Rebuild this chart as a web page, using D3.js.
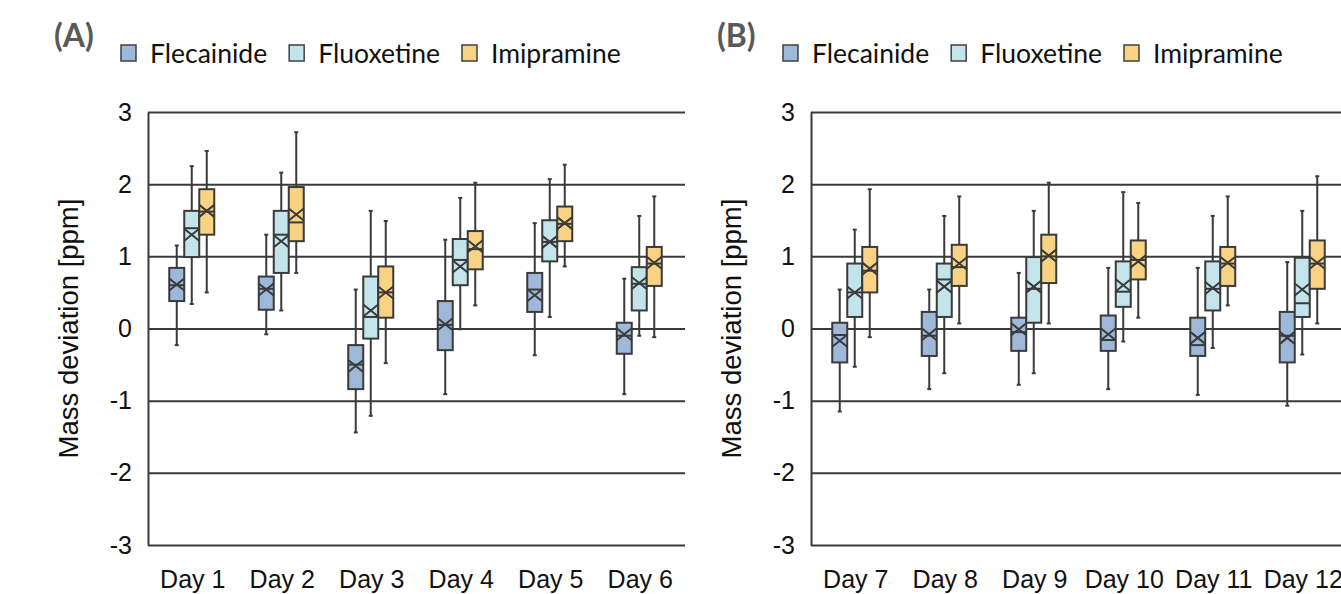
<!DOCTYPE html>
<html>
<head>
<meta charset="utf-8">
<script src="https://cdn.jsdelivr.net/npm/d3@7"></script>
<style>
  body { margin: 0; background: white; }
  svg { display: block; }
</style>
</head>
<body>
<main></main>
<script>
// values per box: [whisker low, q1, median, q3, whisker high, mean]
const seriesNames = ["Flecainide", "Fluoxetine", "Imipramine"];
const seriesColors = ["#9db8d8", "#c3e4ea", "#f9d383"];
const yTicks = [-3, -2, -1, 0, 1, 2, 3];

const daysA = ["Day 1", "Day 2", "Day 3", "Day 4", "Day 5", "Day 6"];
const daysB = ["Day 7", "Day 8", "Day 9", "Day 10", "Day 11", "Day 12"];

const flecainideA = [
    [-0.23, 0.38, 0.60, 0.84, 1.15, 0.61],
    [-0.08, 0.26, 0.55, 0.72, 1.30, 0.54],
    [-1.44, -0.84, -0.50, -0.23, 0.54, -0.52],
    [-0.91, -0.30, 0.05, 0.38, 1.23, 0.06],
    [-0.37, 0.23, 0.54, 0.77, 1.46, 0.46],
    [-0.91, -0.35, -0.10, 0.08, 0.69, -0.08]
];
const fluoxetineA = [
    [0.34, 0.99, 1.39, 1.63, 2.25, 1.30],
    [0.25, 0.77, 1.30, 1.63, 2.16, 1.21],
    [-1.21, -0.14, 0.16, 0.72, 1.63, 0.25],
    [-0.01, 0.60, 0.95, 1.24, 1.81, 0.86],
    [0.16, 0.93, 1.20, 1.50, 2.07, 1.20],
    [-0.10, 0.25, 0.62, 0.85, 1.56, 0.63]
];
const imipramineA = [
    [0.50, 1.30, 1.62, 1.93, 2.46, 1.63],
    [0.77, 1.21, 1.47, 1.96, 2.72, 1.58],
    [-0.48, 0.15, 0.50, 0.86, 1.49, 0.50],
    [0.32, 0.82, 1.10, 1.35, 2.02, 1.14],
    [0.86, 1.21, 1.45, 1.69, 2.27, 1.46],
    [-0.12, 0.59, 0.90, 1.13, 1.83, 0.91]
];

const flecainideB = [
    [-1.15, -0.47, -0.09, 0.08, 0.54, -0.17],
    [-0.84, -0.38, -0.10, 0.23, 0.54, -0.08],
    [-0.78, -0.31, -0.05, 0.15, 0.77, -0.01],
    [-0.84, -0.31, -0.16, 0.18, 0.84, -0.08],
    [-0.92, -0.38, -0.23, 0.15, 0.84, -0.13],
    [-1.07, -0.47, -0.10, 0.23, 0.92, -0.13]
];
const fluoxetineB = [
    [-0.53, 0.16, 0.50, 0.90, 1.37, 0.50],
    [-0.62, 0.16, 0.68, 0.90, 1.56, 0.58],
    [-0.62, 0.08, 0.55, 0.99, 1.63, 0.58],
    [-0.18, 0.30, 0.51, 0.93, 1.89, 0.60],
    [-0.27, 0.25, 0.55, 0.93, 1.56, 0.56],
    [-0.36, 0.16, 0.35, 0.98, 1.63, 0.54]
];
const imipramineB = [
    [-0.12, 0.50, 0.80, 1.13, 1.93, 0.83],
    [0.07, 0.59, 0.85, 1.16, 1.83, 0.90],
    [0.07, 0.63, 1.00, 1.30, 2.02, 1.01],
    [0.15, 0.68, 0.95, 1.22, 1.74, 0.93],
    [0.32, 0.59, 0.90, 1.13, 1.83, 0.91],
    [0.07, 0.55, 0.90, 1.22, 2.11, 0.91]
];

const WIDTH = 1341;
const HEIGHT = 594;
const PLOT_TOP = 112;
const PLOT_BOTTOM = 545;
const PLOT_WIDTH = 537;
const BOX_W = 15;
const LINE = "#3a3a3a";
const AXIS_FONT = "'Liberation Sans', Arial, sans-serif";
const LEGEND_FONT = "Lato, 'Open Sans', sans-serif";

const svg = d3.select("main").append("svg")
    .attr("width", WIDTH)
    .attr("height", HEIGHT);

const y = d3.scaleLinear().domain([-3, 3]).range([PLOT_BOTTOM, PLOT_TOP]);
const offset = d3.scalePoint().domain(seriesNames).range([-16, 14]);
const color = d3.scaleOrdinal().domain(seriesNames).range(seriesColors);

function drawPanel (label, left, labelX, legendX, days, seriesData) {
    const x = d3.scaleBand().domain(days).range([left, left + PLOT_WIDTH]);

    // panel letter
    svg.append("text")
        .attr("x", labelX)
        .attr("y", 47)
        .style("font-family", LEGEND_FONT)
        .style("font-weight", "bold")
        .style("font-size", "32px")
        .style("fill", "#595959")
        .text(label);

    // legend
    const legend = svg.append("g").attr("transform", "translate(" + legendX + ",0)");
    let lx = 0;
    seriesNames.forEach(function (name) {
        legend.append("rect")
            .attr("x", lx + 1)
            .attr("y", 45)
            .attr("width", 15)
            .attr("height", 16)
            .style("fill", color(name))
            .style("stroke", "#404040")
            .style("stroke-width", 1.5);
        const t = legend.append("text")
            .attr("x", lx + 30)
            .attr("y", 63)
            .style("font-family", LEGEND_FONT)
            .style("font-size", "26.5px")
            .style("fill", "#111")
            .text(name);
        lx += 30 + t.node().getComputedTextLength() + 21;
    });

    // y axis with gridlines
    const yAxis = svg.append("g")
        .attr("transform", "translate(" + left + ",0)")
        .call(d3.axisLeft(y)
            .tickValues(yTicks)
            .tickSize(-PLOT_WIDTH)
            .tickSizeOuter(0)
            .tickPadding(16)
            .tickFormat(function (d) { return String(d); }));
    yAxis.selectAll("line").style("stroke", LINE).style("stroke-width", 2);
    yAxis.select(".domain").style("stroke", LINE).style("stroke-width", 2);
    yAxis.selectAll("text")
        .style("font-family", AXIS_FONT)
        .style("font-size", "25px")
        .style("fill", "#111");

    // y title
    svg.append("text")
        .attr("transform", "translate(" + (left - 70) + "," + ((PLOT_TOP + PLOT_BOTTOM) / 2 + 0) + ") rotate(-90)")
        .attr("text-anchor", "middle")
        .style("font-family", AXIS_FONT)
        .style("font-size", "27.5px")
        .style("fill", "#111")
        .text("Mass deviation [ppm]");

    // x axis labels
    const xAxis = svg.append("g")
        .attr("transform", "translate(0," + PLOT_BOTTOM + ")")
        .call(d3.axisBottom(x).tickSize(0).tickPadding(25));
    xAxis.select(".domain").remove();
    xAxis.selectAll("text")
        .style("font-family", AXIS_FONT)
        .style("font-size", "25px")
        .style("fill", "#111");

    // boxes
    seriesNames.forEach(function (name, si) {
        const g = svg.append("g");
        seriesData[si].forEach(function (v, di) {
            const cx = x(days[di]) + x.bandwidth() / 2 + offset(name);
            const b = g.append("g");
            b.append("line")
                .attr("x1", cx).attr("x2", cx)
                .attr("y1", y(v[0])).attr("y2", y(v[4]));
            b.append("line")
                .attr("x1", cx - 2).attr("x2", cx + 2)
                .attr("y1", y(v[0])).attr("y2", y(v[0]));
            b.append("line")
                .attr("x1", cx - 2).attr("x2", cx + 2)
                .attr("y1", y(v[4])).attr("y2", y(v[4]));
            b.append("rect")
                .attr("x", cx - BOX_W / 2)
                .attr("y", y(v[3]))
                .attr("width", BOX_W)
                .attr("height", y(v[1]) - y(v[3]))
                .style("fill", color(name));
            b.append("line")
                .attr("x1", cx - BOX_W / 2).attr("x2", cx + BOX_W / 2)
                .attr("y1", y(v[2])).attr("y2", y(v[2]));
            // mean marker
            const my = y(v[5]);
            b.append("path")
                .attr("d", "M" + (cx - BOX_W / 2) + "," + (my - 6) + "L" + (cx + BOX_W / 2) + "," + (my + 6) +
                           "M" + (cx - BOX_W / 2) + "," + (my + 6) + "L" + (cx + BOX_W / 2) + "," + (my - 6))
                .style("fill", "none");
            b.selectAll("line, rect, path")
                .style("stroke", LINE)
                .style("stroke-width", 2);
        });
    });
}

drawPanel("(A)", 148, 54, 120, daysA, [flecainideA, fluoxetineA, imipramineA]);
drawPanel("(B)", 811, 717, 782, daysB, [flecainideB, fluoxetineB, imipramineB]);
</script>
</body>
</html>
